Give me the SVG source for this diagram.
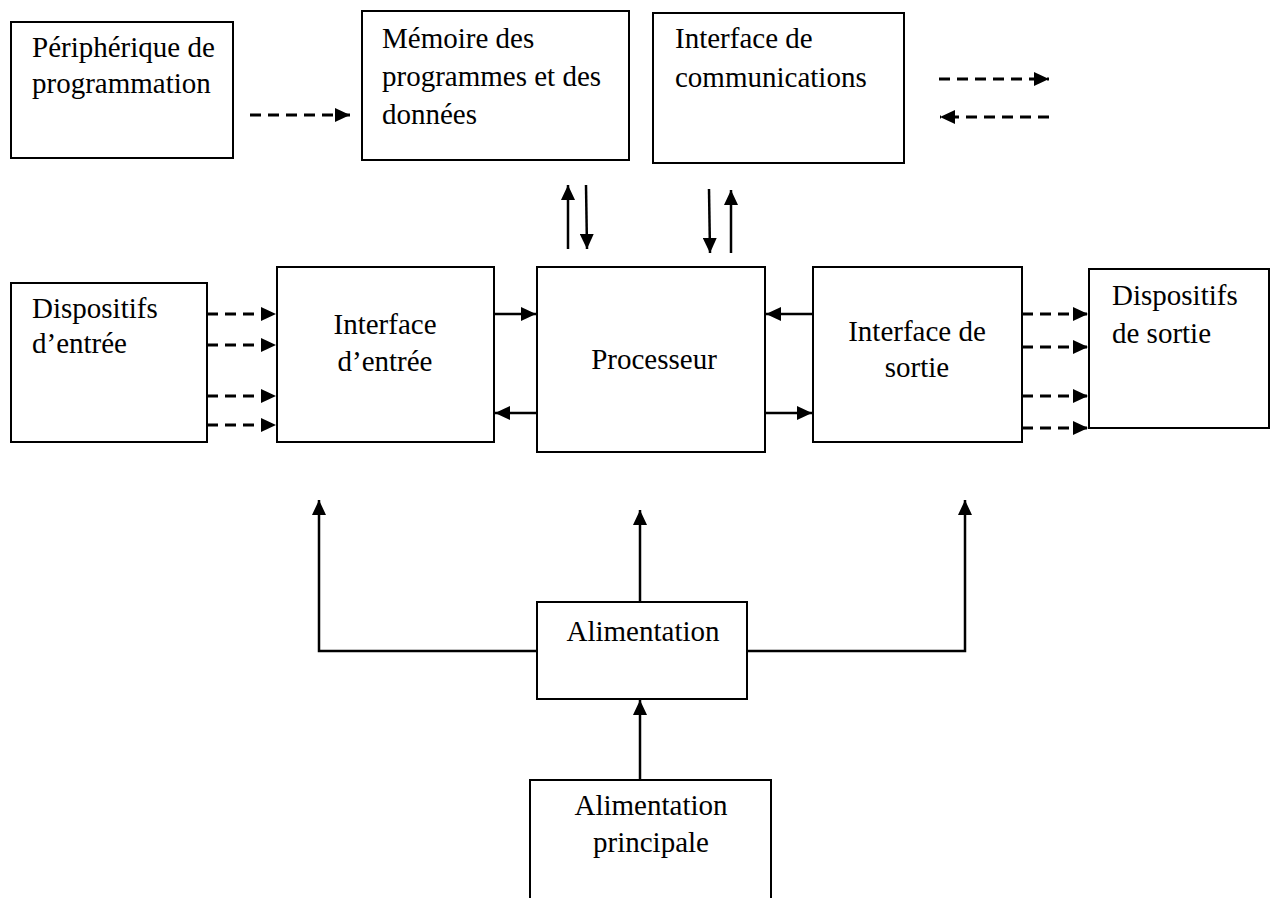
<svg xmlns="http://www.w3.org/2000/svg" width="1277" height="898" viewBox="0 0 1277 898">
  <style>
    .box { fill: #fff; stroke: #000; stroke-width: 2; }
    .lbl { font-family: "Liberation Serif", "Times New Roman", serif; font-size: 29px; fill: #000; }
    .mid { text-anchor: middle; }
    .solid { stroke: #000; stroke-width: 2.5; fill: none; }
    .dash { stroke: #000; stroke-width: 3; fill: none; stroke-dasharray: 11 7; }
  </style>
  <defs>
    <marker id="head" viewBox="0 0 15 14" refX="15" refY="7" markerWidth="15" markerHeight="14" markerUnits="userSpaceOnUse" orient="auto">
      <path d="M0,0 L15,7 L0,14 Z" fill="#000"/>
    </marker>
  </defs>
  <rect width="1277" height="898" fill="#fff"/>

  <g id="peripherique">
    <rect class="box" x="11" y="22" width="222" height="136"/>
    <text class="lbl" x="32" y="57">Périphérique de</text>
    <text class="lbl" x="32" y="93">programmation</text>
  </g>
  <g id="memoire">
    <rect class="box" x="362" y="11" width="267" height="149"/>
    <text class="lbl" x="382" y="48">Mémoire des</text>
    <text class="lbl" x="382" y="86">programmes et des</text>
    <text class="lbl" x="382" y="124">données</text>
  </g>
  <g id="interface-comm">
    <rect class="box" x="653" y="13" width="251" height="150"/>
    <text class="lbl" x="675" y="48">Interface de</text>
    <text class="lbl" x="675" y="87">communications</text>
  </g>
  <g id="dispositifs-entree">
    <rect class="box" x="11" y="283" width="196" height="159"/>
    <text class="lbl" x="32" y="318">Dispositifs</text>
    <text class="lbl" x="32" y="353">d’entrée</text>
  </g>
  <g id="interface-entree">
    <rect class="box" x="277" y="267" width="217" height="175"/>
    <text class="lbl mid" x="385" y="334">Interface</text>
    <text class="lbl mid" x="385" y="371">d’entrée</text>
  </g>
  <g id="processeur">
    <rect class="box" x="537" y="267" width="228" height="185"/>
    <text class="lbl mid" x="654" y="369">Processeur</text>
  </g>
  <g id="interface-sortie">
    <rect class="box" x="813" y="267" width="209" height="175"/>
    <text class="lbl mid" x="917" y="341">Interface de</text>
    <text class="lbl mid" x="917" y="377">sortie</text>
  </g>
  <g id="dispositifs-sortie">
    <rect class="box" x="1089" y="269" width="180" height="159"/>
    <text class="lbl" x="1112" y="305">Dispositifs</text>
    <text class="lbl" x="1112" y="343">de sortie</text>
  </g>
  <g id="alimentation">
    <rect class="box" x="537" y="602" width="210" height="97"/>
    <text class="lbl mid" x="643" y="641">Alimentation</text>
  </g>
  <g id="alimentation-principale">
    <rect class="box" x="530" y="780" width="241" height="130"/>
    <text class="lbl mid" x="651" y="815">Alimentation</text>
    <text class="lbl mid" x="651" y="852">principale</text>
  </g>

  <g id="connectors">
    <!-- programming device to memory -->
    <line class="dash" x1="250" y1="115" x2="350" y2="115" marker-end="url(#head)"/>
    <!-- communication links -->
    <line class="dash" x1="939" y1="79" x2="1049" y2="79" marker-end="url(#head)"/>
    <line class="dash" x1="1049" y1="117" x2="940" y2="117" marker-end="url(#head)"/>
    <!-- memory / processor -->
    <line class="solid" x1="568" y1="249" x2="568" y2="185" marker-end="url(#head)"/>
    <line class="solid" x1="586" y1="185" x2="587" y2="249" marker-end="url(#head)"/>
    <!-- communication interface / processor -->
    <line class="solid" x1="709" y1="189" x2="710" y2="253" marker-end="url(#head)"/>
    <line class="solid" x1="731" y1="253" x2="731" y2="190" marker-end="url(#head)"/>
    <!-- input devices to input interface -->
    <line class="dash" x1="207" y1="314" x2="276" y2="314" marker-end="url(#head)"/>
    <line class="dash" x1="207" y1="345" x2="276" y2="345" marker-end="url(#head)"/>
    <line class="dash" x1="207" y1="396" x2="276" y2="396" marker-end="url(#head)"/>
    <line class="dash" x1="207" y1="425" x2="276" y2="425" marker-end="url(#head)"/>
    <!-- interfaces / processor -->
    <line class="solid" x1="494" y1="314" x2="536" y2="314" marker-end="url(#head)"/>
    <line class="solid" x1="537" y1="413" x2="495" y2="413" marker-end="url(#head)"/>
    <line class="solid" x1="813" y1="314" x2="766" y2="314" marker-end="url(#head)"/>
    <line class="solid" x1="765" y1="413" x2="812" y2="413" marker-end="url(#head)"/>
    <!-- output interface to output devices -->
    <line class="dash" x1="1022" y1="314" x2="1088" y2="314" marker-end="url(#head)"/>
    <line class="dash" x1="1022" y1="347" x2="1088" y2="347" marker-end="url(#head)"/>
    <line class="dash" x1="1022" y1="396" x2="1088" y2="396" marker-end="url(#head)"/>
    <line class="dash" x1="1022" y1="428" x2="1088" y2="428" marker-end="url(#head)"/>
    <!-- power distribution -->
    <polyline class="solid" points="537,651 319,651 319,500" marker-end="url(#head)"/>
    <polyline class="solid" points="747,651 965,651 965,500" marker-end="url(#head)"/>
    <line class="solid" x1="640" y1="602" x2="640" y2="510" marker-end="url(#head)"/>
    <line class="solid" x1="640" y1="780" x2="640" y2="700" marker-end="url(#head)"/>
  </g>
</svg>
